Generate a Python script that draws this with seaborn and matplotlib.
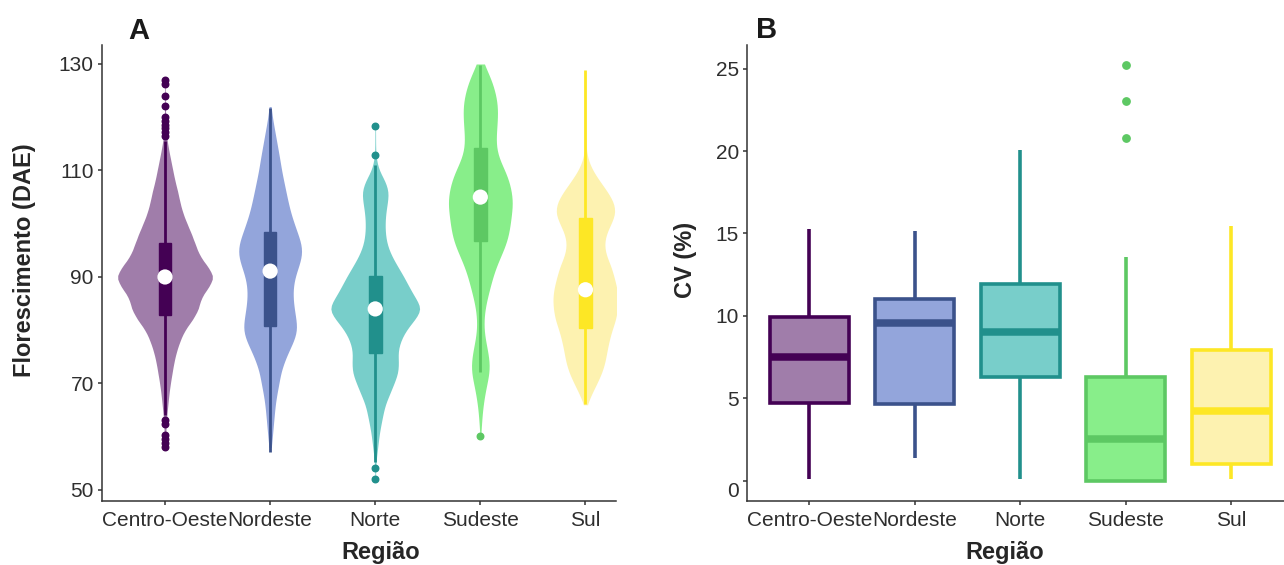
import numpy as np
import pandas as pd
import matplotlib
matplotlib.use("Agg")
import matplotlib.pyplot as plt
import matplotlib.transforms as mtransforms
import seaborn as sns

# --- data ------------------------------------------------------------------
regioes = ["Centro-Oeste", "Nordeste", "Norte", "Sudeste", "Sul"]

line_colors = ["#440154", "#3B528B", "#21908C", "#5DC863", "#FDE725"]
fill_colors = ["#A07DAA", "#93A5DB", "#78CECA", "#88EE8A", "#FDF2B0"]

# panel A: flowering (DAE) distribution per region, as counts on 2-day bins
dae_bins = [50, 52, 54, 56, 58, 60, 62, 64, 66, 68, 70, 72, 74, 76, 78, 80,
            82, 84, 86, 88, 90, 92, 94, 96, 98, 100, 102, 104, 106, 108, 110,
            112, 114, 116, 118, 120, 122, 124, 126, 128, 130]
n_centro = [0, 0, 0, 0, 1, 2, 3, 5, 8, 11, 15, 20, 25, 32, 42, 55, 78, 95, 100,
            122, 140, 120, 97, 86, 75, 62, 50, 42, 36, 28, 22, 16, 10, 5, 3, 2,
            1, 1, 1, 0, 0]
n_nordeste = [0, 0, 0, 0, 4, 7, 10, 13, 16, 21, 28, 33, 44, 58, 75, 86, 82, 76,
              72, 72, 78, 90, 101, 100, 88, 76, 65, 57, 50, 43, 36, 31, 25, 19,
              13, 7, 3, 0, 0, 0, 0]
n_norte = [0, 1, 1, 3, 7, 10, 15, 21, 27, 40, 52, 64, 65, 62, 70, 85, 110, 132,
           112, 95, 80, 62, 45, 33, 28, 27, 29, 34, 38, 28, 10, 3, 1, 1, 1, 0,
           0, 0, 0, 0, 0]
n_sudeste = [0, 0, 0, 0, 0, 1, 3, 5, 8, 13, 19, 27, 27, 22, 15, 10, 10, 13, 20,
             28, 36, 46, 60, 74, 83, 87, 91, 95, 91, 84, 72, 55, 46, 45, 48, 50,
             51, 46, 38, 26, 10]
n_sul = [0, 0, 0, 0, 0, 0, 0, 0, 4, 17, 32, 46, 55, 60, 66, 74, 85, 90, 92, 88,
         80, 72, 58, 52, 57, 72, 85, 80, 62, 40, 20, 7, 2, 1, 1, 1, 1, 1, 1, 1, 0]

# panel A: inner boxplot summary
box_q1 = [82.8, 80.8, 75.7, 96.7, 80.5]
box_med = [90.0, 91.1, 84.0, 105.0, 87.6]
box_q3 = [96.3, 98.4, 90.2, 114.2, 101.0]
whisk_lo = [64.0, 57.2, 55.2, 72.2, 66.1]
whisk_hi = [115.5, 121.7, 111.1, 129.8, 128.9]
out_centro = [116.5, 117.2, 117.9, 118.6, 119.3, 120.0, 122.1, 124.0, 126.3,
              127.0, 63.1, 62.3, 60.3, 59.5, 58.8, 58.0]
out_nordeste = []
out_norte = [112.9, 118.4, 54.1, 52.1]
out_sudeste = [60.2]
out_sul = []

# panel B: CV (%) per region
cv_centro = [0.1, 4.75, 7.5, 9.95, 15.3]
cv_nordeste = [1.4, 4.65, 9.6, 11.05, 15.15]
cv_norte = [0.1, 6.3, 9.05, 11.95, 20.05]
cv_sudeste = [0.0, 0.0, 0.0, 0.0, 0.0, 0.8, 1.5, 2.1, 2.53, 3.5, 4.5, 5.5,
              6.32, 13.6, 20.8, 23.05, 25.2]
cv_sul = [0.1, 1.03, 4.25, 7.95, 15.45]

# --- long tables -----------------------------------------------------------
counts = [n_centro, n_nordeste, n_norte, n_sudeste, n_sul]
df_a = pd.concat([
    pd.DataFrame({"regiao": r, "dae": np.repeat(dae_bins, n)})
    for r, n in zip(regioes, counts)
], ignore_index=True)

cvs = [cv_centro, cv_nordeste, cv_norte, cv_sudeste, cv_sul]
df_b = pd.concat([
    pd.DataFrame({"regiao": r, "cv": v}) for r, v in zip(regioes, cvs)
], ignore_index=True)

outs = [out_centro, out_nordeste, out_norte, out_sudeste, out_sul]
box_stats = [
    dict(med=m, q1=a, q3=b, whislo=lo, whishi=hi, fliers=f)
    for m, a, b, lo, hi, f in zip(box_med, box_q1, box_q3, whisk_lo, whisk_hi, outs)
]

# --- style -----------------------------------------------------------------
sns.set_theme(style="ticks")
plt.rcParams["font.family"] = ["Liberation Sans", "DejaVu Sans"]
axis_col = "#333333"
tick_col = "#2e2e2e"

fig = plt.figure(figsize=(12.84, 5.65), dpi=100)
ax_a = fig.add_axes([0.0794, 0.1133, 0.4003, 0.8071])
ax_b = fig.add_axes([0.5818, 0.1133, 0.4182, 0.8071])

# --- panel A: violins + narrow boxes ---------------------------------------
sns.violinplot(
    data=df_a, x="regiao", y="dae", hue="regiao", order=regioes,
    hue_order=regioes, palette=fill_colors, saturation=1, inner=None, cut=0,
    width=0.9, linewidth=0, bw_adjust=0.5, density_norm="area",
    common_norm=True, legend=False, ax=ax_a,
)

bp = ax_a.bxp(box_stats, positions=range(len(regioes)), widths=0.12,
              patch_artist=True, showcaps=False, manage_ticks=False)
for i, c in enumerate(line_colors):
    bp["boxes"][i].set(facecolor=c, edgecolor=c, linewidth=1, zorder=3)
    for w in bp["whiskers"][2 * i:2 * i + 2]:
        w.set(color=c, linewidth=2.0, zorder=3, solid_capstyle="butt")
    bp["medians"][i].set_visible(False)
    bp["fliers"][i].set(marker="o", markersize=4.7, markerfacecolor=c,
                        markeredgecolor=c, zorder=3)

ax_a.scatter(range(len(regioes)), box_med, s=120, color="white",
             edgecolor="none", zorder=5)

ax_a.set_xlim(-0.6, 4.29)
ax_a.set_ylim(47.93, 133.57)
ax_a.set_yticks([50, 70, 90, 110, 130])
ax_a.set_ylabel("Florescimento (DAE)", fontsize=17, fontweight="bold", va="center")
ax_a.yaxis.set_label_coords(-0.151, 0.528)

# --- panel B: boxplots -----------------------------------------------------
sns.boxplot(
    data=df_b, x="regiao", y="cv", hue="regiao", order=regioes,
    hue_order=regioes, palette=fill_colors, saturation=1, width=0.75,
    linewidth=2.6, showcaps=False, whis=1.5, legend=False,
    flierprops=dict(marker="o", markersize=5.3), ax=ax_b,
)
for cont, c in zip(ax_b.containers, line_colors):
    for b in cont.boxes:
        b.set_edgecolor(c)
        b.set_linewidth(2.6)
    for w in cont.whiskers:
        w.set(color=c, linewidth=2.6)
    for m in cont.medians:
        m.set(color=c, linewidth=5.4)
    for f in cont.fliers:
        f.set(markerfacecolor=c, markeredgecolor=c)

ax_b.set_xlim(-0.59, 4.5)
ax_b.set_ylim(-1.22, 26.43)
ax_b.set_yticks([0, 5, 10, 15, 20, 25])
ax_b.set_ylabel("CV (%)", fontsize=17, fontweight="bold", va="center")
ax_b.yaxis.set_label_coords(-0.114, 0.528)

# --- shared axis cosmetics -------------------------------------------------
for ax, xc in [(ax_a, 0.543), (ax_b, 0.480)]:
    ax.set_xlabel("Região", fontsize=17, fontweight="bold", va="center")
    ax.xaxis.set_label_coords(xc, -0.114)
    sns.despine(ax=ax)
    for s in ["left", "bottom"]:
        ax.spines[s].set_color(axis_col)
        ax.spines[s].set_linewidth(1.1)
    ax.tick_params(axis="both", length=2.9, width=1.1, color=axis_col,
                   labelsize=15, labelcolor=tick_col)
    ax.tick_params(axis="x", pad=4.3)
    ax.tick_params(axis="y", pad=3)
    ax.set_facecolor("white")

# the "0" label on panel B sits a bit lower in the original
lab0 = ax_b.get_yticklabels()[0]
lab0.set_transform(lab0.get_transform() +
                   mtransforms.ScaledTranslation(0, -9 / 100, fig.dpi_scale_trans))

fig.text(128.6 / 1284, 1 - 39 / 565, "A", fontsize=21, fontweight="bold",
         ha="left", va="baseline", color="#1a1a1a")
fig.text(756 / 1284, 1 - 38 / 565, "B", fontsize=21, fontweight="bold",
         ha="left", va="baseline", color="#1a1a1a")

fig.savefig("out.png", dpi=100, facecolor="white")
